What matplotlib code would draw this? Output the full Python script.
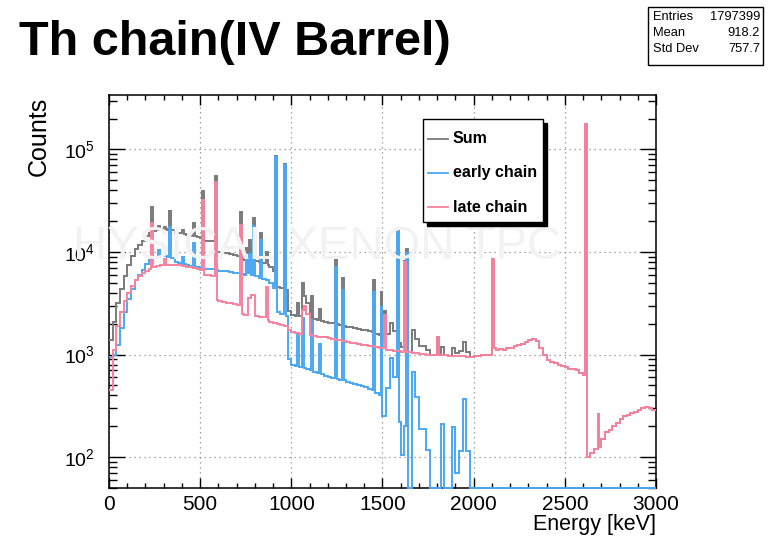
import numpy as np
import matplotlib.pyplot as plt
from matplotlib.patches import Rectangle
from matplotlib.lines import Line2D
from matplotlib.ticker import MultipleLocator, LogLocator, NullFormatter

plt.rcParams['font.family'] = ['Liberation Sans', 'DejaVu Sans']
plt.rcParams['mathtext.default'] = 'regular'

BIN_WIDTH = 10        # keV per histogram bin
E_MAX = 3000
Y_MIN, Y_MAX = 50, 3.4e5

# smooth part of each spectrum, one entry per 20 keV (0, 20, ..., 2980 keV)
early_continuum = [
    950, 1000, 1250, 1800, 2600, 3500, 4400, 5300, 6000, 6700,
    7600, 8300, 8800, 9000, 9200, 9100, 9000, 8800, 8000, 7800,
    7600, 7400, 7300, 7200, 7100, 7000, 6900, 6800, 6800, 6700,
    6600, 6500, 6500, 6400, 6300, 6200, 6100, 6000, 6200, 6000,
    5800, 5600, 5500, 5300, 5000, 4500, 2600, 2500, 2400, 900,
    800, 780, 760, 740, 720, 700, 680, 660, 640, 620,
    600, 590, 580, 570, 560, 540, 530, 520, 500, 490,
    480, 460, 450, 420, 400, 250, 470, 925, 600, 220,
    105, 200, 0, 680, 385, 190, 190, 118, 0, 0,
    0, 210, 0, 0, 195, 70, 115, 370, 115, 0,
    0, 0, 0, 0, 0, 0, 0, 0, 0, 0,
    0, 0, 0, 0, 0, 0, 0, 0, 0, 0,
    0, 0, 0, 0, 0, 0, 0, 0, 0, 0,
    0, 0, 0, 0, 0, 0, 0, 0, 0, 0,
    0, 0, 0, 0, 0, 0, 0, 0, 0, 0,
]
late_continuum = [
    450, 1100, 1900, 2600, 3300, 4000, 4700, 5300, 5800, 6200,
    6600, 6900, 7100, 7300, 7400, 7500, 7500, 7500, 7400, 7400,
    7300, 7200, 7100, 7000, 6900, 6700, 6000, 5950, 5900, 3400,
    3300, 3250, 3200, 3150, 3100, 3050, 2500, 2450, 3600, 3800,
    2400, 2350, 2300, 2150, 2100, 2050, 2000, 1950, 1900, 1750,
    1650, 1620, 1600, 2700, 2500, 1550, 1530, 1500, 1480, 1470,
    1440, 1420, 1400, 1380, 1350, 1330, 1310, 1290, 1270, 1250,
    1240, 1220, 1200, 1180, 1160, 1150, 1120, 1100, 1090, 1080,
    1070, 1060, 1050, 1040, 1030, 1020, 1010, 1000, 1000, 990,
    990, 980, 980, 970, 970, 960, 960, 960, 955, 950,
    960, 970, 980, 990, 1000, 1150, 1120, 1130, 1100, 1150,
    1170, 1200, 1250, 1280, 1320, 1380, 1420, 1350, 1150, 980,
    880, 850, 820, 790, 780, 760, 730, 720, 700, 660,
    630, 100, 110, 120, 125, 150, 175, 185, 200, 215,
    235, 250, 260, 270, 275, 285, 300, 310, 300, 290,
]

# gamma lines: (lower edge of the 10 keV bin, counts in that bin)
early_lines = [
    (270, 10500), (330, 17600), (400, 9000), (460, 12200),
    (750, 8500), (770, 9500), (790, 17900), (830, 13000),
    (910, 83600), (960, 70000),
    (1030, 1600), (1060, 2250), (1110, 2150), (1150, 1260),
    (1240, 7200), (1280, 4230), (1450, 4080), (1490, 2930),
    (1580, 15800), (1630, 9700),
]
late_lines = [
    (230, 19000), (300, 8500), (510, 32000), (580, 48000),
    (720, 18300), (860, 4600), (1070, 3000), (1510, 2430),
    (1620, 8000), (1800, 1500), (2100, 8500), (2610, 179000),
    (2680, 265),
]

series_names = ["Sum", "early chain", "late chain"]
series_colors = ["#7a7a7a", "#4aa8f2", "#f7829f"]

stats_labels = ["Entries", "Mean", "Std Dev"]
stats_values = ["1797399", "918.2", "757.7"]

W, H = 776, 536


def px(x, y):
    # pixel position (from top-left) -> figure fraction
    return x / W, 1 - y / H


def build_hist(continuum, lines):
    counts = np.repeat(np.asarray(continuum, dtype=float), 2)
    for energy, value in lines:
        counts[int(energy // BIN_WIDTH)] = value
    return counts


def main():
    edges = np.arange(0, E_MAX + BIN_WIDTH, BIN_WIDTH)
    early = build_hist(early_continuum, early_lines)
    late = build_hist(late_continuum, late_lines)
    total = early + late

    fig = plt.figure(figsize=(W / 100, H / 100), dpi=100)

    # faint background logo text
    fig.text(*px(73, 247), "HYSICAL XENON TPC",
             fontsize=34, color="#f2f2f2", ha="left", va="center", zorder=0)

    x0, y1 = px(109, 95)
    x1, y0 = px(656, 488)
    ax = fig.add_axes([x0, y0, x1 - x0, y1 - y0])
    ax.set_facecolor("none")

    # ROOT draws empty / low bins on the frame floor
    for counts, color in zip([total, early, late], series_colors):
        ax.stairs(np.clip(counts, Y_MIN, None), edges, color=color,
                  lw=1.4, baseline=None, clip_on=False, zorder=3)

    ax.set_yscale("log")
    ax.set_xlim(0, E_MAX)
    ax.set_ylim(Y_MIN, Y_MAX)

    ax.xaxis.set_major_locator(MultipleLocator(500))
    ax.xaxis.set_minor_locator(MultipleLocator(100))
    ax.yaxis.set_major_locator(LogLocator(base=10, numticks=10))
    ax.yaxis.set_minor_locator(LogLocator(base=10, subs=np.arange(2, 10), numticks=20))
    ax.yaxis.set_minor_formatter(NullFormatter())

    ax.tick_params(which="both", direction="in", top=True, right=True, width=1.0)
    ax.tick_params(axis="x", which="major", length=7.5, labelsize=15, pad=5)
    ax.tick_params(axis="x", which="minor", length=3.8)
    ax.tick_params(axis="y", which="major", length=11.5, labelsize=14, pad=10)
    ax.tick_params(axis="y", which="minor", length=5.8)

    ax.grid(which="major", linestyle=(0, (1, 3)), color="#8a8a8a", lw=0.9)
    ax.set_axisbelow(True)
    for sp in ax.spines.values():
        sp.set_linewidth(1.1)

    # titles and axis labels
    fig.text(*px(19, 55), "Th chain(IV Barrel)", fontsize=35,
             fontweight="bold", ha="left", va="baseline")
    fig.text(*px(656, 530), "Energy [keV]", fontsize=15.5,
             ha="right", va="baseline")
    fig.text(*px(39, 97), "Counts", fontsize=18, rotation=90,
             ha="center", va="top")

    # legend box with drop shadow
    lx0, ly0, lx1, ly1 = 423, 119, 543, 222
    sx, sy = px(lx0 + 4, ly1 + 4)
    fig.patches.append(Rectangle((sx, sy), (lx1 - lx0) / W, (ly1 - ly0) / H,
                                 transform=fig.transFigure, facecolor="black",
                                 edgecolor="black", zorder=5))
    bx, by = px(lx0, ly1)
    fig.patches.append(Rectangle((bx, by), (lx1 - lx0) / W, (ly1 - ly0) / H,
                                 transform=fig.transFigure, facecolor="white",
                                 edgecolor="black", lw=1.0, zorder=6))
    for name, color, ry in zip(series_names, series_colors, [139, 173, 207]):
        xa, ya = px(428, ry)
        xb, _ = px(448, ry)
        fig.lines.append(Line2D([xa, xb], [ya, ya], transform=fig.transFigure,
                                color=color, lw=1.3, zorder=7))
        fig.text(*px(453, ry), name, fontsize=11.5, fontweight="bold",
                 ha="left", va="center", zorder=7)

    # statistics box
    bx, by = px(648, 65)
    fig.patches.append(Rectangle((bx, by), 115 / W, 58 / H,
                                 transform=fig.transFigure, facecolor="white",
                                 edgecolor="black", lw=1.0, zorder=5))
    for label, value, ry in zip(stats_labels, stats_values, [17, 33, 49]):
        fig.text(*px(653, ry), label, fontsize=9.3, ha="left", va="center", zorder=6)
        fig.text(*px(760, ry), value, fontsize=9.3, ha="right", va="center", zorder=6)

    fig.savefig("out.png", dpi=100)


if __name__ == "__main__":
    main()
